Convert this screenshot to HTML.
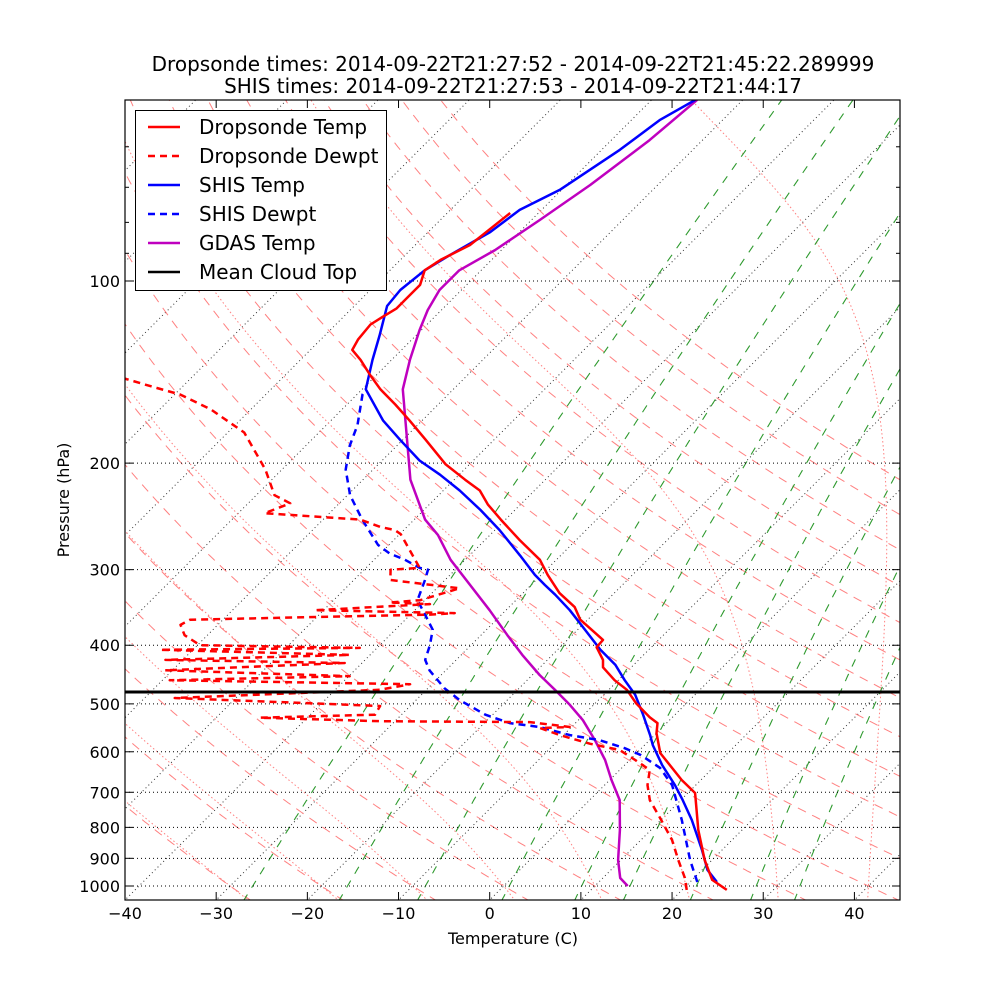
<!DOCTYPE html>
<html><head><meta charset="utf-8"><style>
body{margin:0;background:#fff;}
svg{display:block;font-family:"DejaVu Sans","Liberation Sans",sans-serif;}
</style></head><body>
<svg id="chart" width="1000" height="1000" viewBox="0 0 1000 1000">
<rect width="1000" height="1000" fill="#fff"/>
<defs><clipPath id="clip"><rect x="125" y="100" width="775" height="800"/></clipPath></defs>
<text x="513" y="71" font-size="20" text-anchor="middle">Dropsonde times: 2014-09-22T21:27:52 - 2014-09-22T21:45:22.289999</text>
<text x="513" y="93" font-size="20" text-anchor="middle">SHIS times: 2014-09-22T21:27:53 - 2014-09-22T21:44:17</text>
<g id="bg" clip-path="url(#clip)"></g>
<g id="series" clip-path="url(#clip)"></g>
<g id="axes"></g>
<g id="legend"></g>
<text x="513" y="944" font-size="16" text-anchor="middle">Temperature (C)</text>
<text x="69" y="500" font-size="16" text-anchor="middle" transform="rotate(-90 69 500)">Pressure (hPa)</text>
</svg>
<script>
const dsTempP=[1015,977,906,808,702,668,603,559,538,526,499,474,457,435,423,403,392,363,346,328,306,289,268,248,234,222,213,201,183,170,160,151,143,135,130,125,118,114,111,105,101.5,96,92.3,87.2,77.2];
const dsTempT=[24.9,22.2,19.2,15.2,10.8,7.9,2.6,0.0,-1.0,-2.5,-5.5,-8.0,-10.4,-13.1,-13.9,-16.0,-16.1,-20.8,-22.8,-26.0,-29.3,-31.8,-36.2,-40.5,-43.6,-46.0,-48.8,-52.6,-57.5,-61.4,-64.7,-68.0,-70.7,-73.4,-75.4,-75.9,-76.2,-75.6,-75.1,-75.1,-75.1,-76.2,-75.6,-74.0,-73.1];
const dsDewP=[1015,970,906,839,772,721,681,643,619,596,582,563,548,546,536,534,527,521,504,489,474,464,457,450,440,428,423,415,407,404,400,385,370,363,356,354,350,342,340,337,322,312,300,298,262,258,255,248,242,233,226,205,178,163,154,150,145];
const dsDewT=[20.5,19.0,16.3,13.4,9.7,6.6,4.7,3.3,0.6,-2.2,-6.1,-10.4,-13.35,-10.2,-15.1,-31.7,-45.2,-32.9,-33.3,-56.7,-35.1,-32.4,-59.2,-39.9,-60.8,-41.9,-61.9,-42.2,-63.6,-41.9,-59.7,-62.5,-64.1,-63.6,-37.8,-35.3,-51.0,-39.0,-43.6,-40.5,-37.5,-46.0,-47.1,-44.1,-49.9,-51.0,-52.9,-55.9,-67.1,-65.4,-68.0,-71.8,-78.2,-84.4,-89.4,-92.9,-97.2];
const shisTempP=[985,941,872,778,721,681,631,585,563,521,483,457,431,407,377,350,330,318,306,284,258,239,222,209,198,183,170,151,135,123,110,103.5,96,90.6,83,76.3,70.7,60.7,54.2,50.2];
const shisTempT=[22.95,20.6,17.8,13.4,10.2,7.7,4.1,0.9,-0.5,-3.5,-6.55,-9.3,-12.0,-15.3,-19.2,-23.0,-26.3,-28.5,-30.7,-34.5,-39.5,-43.8,-48.2,-52.1,-55.9,-60.3,-64.3,-69.6,-72.1,-74.0,-76.4,-76.7,-76.2,-75.1,-73.2,-72.4,-70.2,-68.0,-66.9,-65.2];
const shisDewP=[985,906,778,681,638,607,592,574,563,546,538,521,493,471,440,423,400,377,356,337,312,300,298,289,282,273,248,226,205,187,173,154,151];
const shisDewT=[20.8,17.6,12.3,7.4,4.2,0.6,-1.8,-5.5,-9.3,-13.5,-17.2,-20.8,-25.2,-28.2,-31.8,-33.4,-34.5,-35.9,-38.4,-40.8,-42.2,-43.0,-44.1,-46.6,-49.0,-51.2,-55.7,-59.7,-63.0,-65.2,-66.6,-69.4,-69.6];
const gdasP=[1000,970,906,808,721,668,619,574,532,502,474,448,415,385,350,318,289,263,248,213,151,135,120.5,111.7,103.5,96,88.9,79.3,69.4,58.5,50.2];
const gdasT=[13.6,11.9,9.7,6.6,3.3,0.2,-2.7,-6.0,-9.5,-12.6,-15.9,-19.2,-23.3,-27.1,-31.8,-36.7,-41.6,-45.7,-48.8,-54.8,-65.55,-68.0,-70.2,-71.5,-72.4,-72.4,-70.7,-69.1,-67.4,-65.8,-65.0];
const cloudTopP=[478];
const xTicks=[-40,-30,-20,-10,0,10,20,30,40];
const yTicks=[100,200,300,400,500,600,700,800,900,1000];
const yMinor=[60,70,80,90];
const isotherms=[-160,-150,-140,-130,-120,-110,-100,-90,-80,-70,-60,-50,-40,-30,-20,-10,0,10,20,30,40,50];
const dryTheta=[-30,-20,-10,0,10,20,30,40,50,60,70,80,90,100,110,120,130,140,150];
const moistT0=[-30,-20,-10,0,10,20,30,40];
const mixW=[0.0004,0.001,0.002,0.004,0.007,0.01,0.016,0.024,0.032];

const NS='http://www.w3.org/2000/svg';
function yOf(p){return 886+605*Math.log10(p/1000);}
function xOf(T,p){return 125+(T+40)*775/85+(900-yOf(p));}
function mk(tag,parent,attrs){const e=document.createElementNS(NS,tag);for(const k in attrs)e.setAttribute(k,attrs[k]);parent.appendChild(e);return e;}
function pathFrom(P,T){return P.map((p,i)=>(i?'L':'M')+xOf(T[i],p).toFixed(1)+','+yOf(p).toFixed(1)).join('');}
const bg=document.getElementById('bg'),ser=document.getElementById('series'),ax=document.getElementById('axes'),lg=document.getElementById('legend');
const pLevels=[];for(let p=1060;p>=48;p-=4)pLevels.push(p);

isotherms.forEach(t=>{const e=mk('line',bg,{x1:xOf(t,1060),y1:yOf(1060),x2:xOf(t,48),y2:yOf(48),stroke:'#000','stroke-width':1,'stroke-dasharray':'1,3',opacity:0.8});

});
dryTheta.forEach(th=>{const T=pLevels.map(p=>(th+273.15)*Math.pow(p/1000,0.2857)-273.15);const e=mk('path',bg,{d:pathFrom(pLevels,T),fill:'none',stroke:'#ff8080','stroke-width':1,'stroke-dasharray':'9,7'});

});
function es(Tc){return 6.112*Math.exp(17.67*Tc/(Tc+243.5));}
function dTdp(Tk,p){const Rd=287,Cp=1005,Lv=2.5e6,eps=0.622;const rs=eps*es(Tk-273.15)/(p-es(Tk-273.15));return (Rd*Tk+Lv*rs)/(p*(Cp+Lv*Lv*rs*eps/(Rd*Tk*Tk)));}
moistT0.forEach(t0=>{const up=[],dn=[];let Tk=t0+273.15;for(let p=1000;p>=48;p-=2){up.push([p,Tk-273.15]);Tk-=dTdp(Tk,p)*2;}
Tk=t0+273.15;for(let p=1000;p<=1060;p+=2){dn.push([p,Tk-273.15]);Tk+=dTdp(Tk,p)*2;}
const pts=dn.reverse().concat(up.slice(1));const e=mk('path',bg,{d:pathFrom(pts.map(a=>a[0]),pts.map(a=>a[1])),fill:'none',stroke:'#ff8080','stroke-width':1,'stroke-dasharray':'1.5,2.5'});

});
mixW.forEach(w=>{const T=pLevels.map(p=>{const e=p*w/(0.622+w);const l=Math.log(e/6.112);return 243.5*l/(17.67-l);});const e=mk('path',bg,{d:pathFrom(pLevels,T),fill:'none',stroke:'#2e9a2e','stroke-width':1.1,'stroke-dasharray':'8,8'});

});
yTicks.forEach(p=>{const e=mk('line',bg,{x1:125,x2:900,y1:yOf(p),y2:yOf(p),stroke:'#000','stroke-width':1,'stroke-dasharray':'1,3'});

});

function series(P,T,color,dash,name){const e=mk('path',ser,{d:pathFrom(P,T),fill:'none',stroke:color,'stroke-width':2.5,'stroke-linejoin':'round'});if(dash)e.setAttribute('stroke-dasharray',dash);

}
series(gdasP,gdasT,'#bf00bf',null,'gdas-temp-line');
series(shisDewP,shisDewT,'#0000ff','7,5','shis-dewpt-line');
series(shisTempP,shisTempT,'#0000ff',null,'shis-temp-line');
series(dsDewP,dsDewT,'#ff0000','7,5','dropsonde-dewpt-line');
series(dsTempP,dsTempT,'#ff0000',null,'dropsonde-temp-line');
cloudTopP.forEach(p=>{const e=mk('line',ser,{x1:125,x2:900,y1:yOf(p),y2:yOf(p),stroke:'#000','stroke-width':3});

});

const fr=mk('rect',ax,{x:125,y:100,width:775,height:800,fill:'none',stroke:'#000','stroke-width':1.2});


xTicks.forEach(t=>{const x=125+(t+40)*775/85;
mk('line',ax,{x1:x,x2:x,y1:900,y2:892,stroke:'#000'});mk('line',ax,{x1:x,x2:x,y1:100,y2:108,stroke:'#000'});
const tx=mk('text',ax,{x:x,y:919,'font-size':16,'text-anchor':'middle'});tx.textContent=(t<0?'\u2212'+(-t):t);

});
yTicks.forEach(p=>{const y=yOf(p);
mk('line',ax,{x1:125,x2:133,y1:y,y2:y,stroke:'#000'});mk('line',ax,{x1:900,x2:892,y1:y,y2:y,stroke:'#000'});
const tx=mk('text',ax,{x:120,y:y+6,'font-size':16,'text-anchor':'end'});tx.textContent=p;

});
yMinor.forEach(p=>{const y=yOf(p);mk('line',ax,{x1:125,x2:129,y1:y,y2:y,stroke:'#000'});mk('line',ax,{x1:900,x2:896,y1:y,y2:y,stroke:'#000'});});

const lb=mk('rect',lg,{x:135.5,y:110.5,width:251,height:180,fill:'#fff',stroke:'#000','stroke-width':1});


const entries=[['Dropsonde Temp','#ff0000',null],['Dropsonde Dewpt','#ff0000','7,5'],['SHIS Temp','#0000ff',null],['SHIS Dewpt','#0000ff','7,5'],['GDAS Temp','#bf00bf',null],['Mean Cloud Top','#000',null]];
entries.forEach((en,i)=>{const y=127+i*29;const g=mk('g',lg,{});


const l=mk('line',g,{x1:148,x2:180,y1:y,y2:y,stroke:en[1],'stroke-width':2.5});if(en[2])l.setAttribute('stroke-dasharray',en[2]);
const t=mk('text',g,{x:199,y:y+7,'font-size':20});t.textContent=en[0];});
</script>
</body></html>
